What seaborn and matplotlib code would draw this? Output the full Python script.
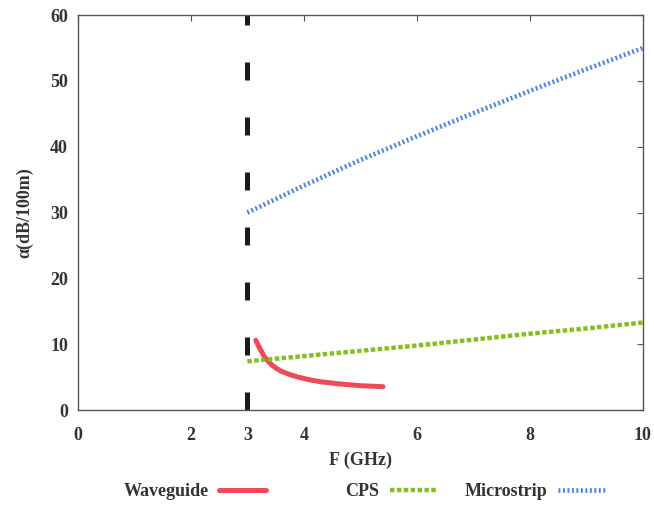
import numpy as np
import pandas as pd
import matplotlib
matplotlib.use("Agg")
import matplotlib.pyplot as plt
import seaborn as sns

# data
freq_ms = [3, 4, 5, 6, 7, 8, 9, 10]
alpha_microstrip = [30.0, 34.1, 38.0, 41.6, 45.1, 48.5, 51.8, 55.0]

freq_cps = [3, 4, 5, 6, 7, 8, 9, 10]
alpha_cps = [7.4, 8.2, 9.0, 9.8, 10.7, 11.6, 12.4, 13.3]

freq_wg = [3.15, 3.2, 3.3, 3.4, 3.5, 3.6, 3.75, 3.9, 4.1, 4.3, 4.6, 5.0, 5.4]
alpha_wg = [10.6, 9.7, 8.1, 7.1, 6.4, 5.9, 5.4, 5.0, 4.6, 4.3, 4.0, 3.7, 3.55]

cutoff = 3
x_ticks = [0, 2, 3, 4, 6, 8, 10]
y_ticks = [0, 10, 20, 30, 40, 50, 60]

sns.set_style("white")
plt.rcParams['font.family'] = ['Liberation Serif', 'DejaVu Serif']
plt.rcParams['font.weight'] = 'bold'

fig = plt.figure(figsize=(6.54, 5.05), dpi=100)
ax = fig.add_axes([0.119, 0.188, 0.864, 0.782])

# cut-off frequency marker
ax.plot([cutoff, cutoff], [0, 60], color='#1a1a1a', lw=3.6,
        linestyle=(0, (3.6, 7.4)), solid_capstyle='butt', dash_capstyle='butt')

sns.lineplot(x=freq_wg, y=alpha_wg, ax=ax, color='#ef4a55', lw=3.6,
             label='Waveguide', solid_joinstyle='round')
sns.lineplot(x=freq_cps, y=alpha_cps, ax=ax, color='#84c01c', lw=3.2,
             label='CPS')
sns.lineplot(x=freq_ms, y=alpha_microstrip, ax=ax,
             color='#4a80e6', lw=3.4, label='Microstrip')

lines = ax.get_lines()
lines[2].set_linestyle((0, (1.0, 0.55)))
lines[2].set_dash_capstyle('butt')
lines[3].set_linestyle((0, (0.4, 0.55)))
lines[3].set_dash_capstyle('butt')

ax.set_xlim(0, 10)
ax.set_ylim(0, 60)
ax.set_xticks(x_ticks)
ax.set_yticks(y_ticks)
ax.tick_params(direction='in', top=True, right=True, length=4, width=0.8,
               color='#555555', labelsize=13)
ax.tick_params(axis='x', pad=12)
ax.tick_params(axis='y', pad=7)
for lab in ax.get_xticklabels() + ax.get_yticklabels():
    lab.set_fontweight('bold')
    lab.set_color('#333333')
for sp in ax.spines.values():
    sp.set_color('#555555')
    sp.set_linewidth(1.0)

ax.set_xlabel('F (GHz)', fontsize=13, fontweight='bold', color='#333333', labelpad=6)
ax.set_ylabel('α(dB/100m)', fontsize=13, fontweight='bold', color='#333333', labelpad=12)

ax.get_legend().remove()
handles, labels = ax.get_legend_handles_labels()
# one legend per entry, the spacing in the original is uneven
legend_x = [0.298, 0.598, 0.818]
for h, l, xpos in zip(handles, labels, legend_x):
    leg = fig.legend([h], [l], loc='center', bbox_to_anchor=(xpos, 0.027),
                     frameon=False, markerfirst=False, handlelength=2.6,
                     handletextpad=0.6, borderpad=0,
                     prop={'size': 13, 'weight': 'bold'})
    for t in leg.get_texts():
        t.set_color('#333333')

fig.savefig('out.png', dpi=100)
